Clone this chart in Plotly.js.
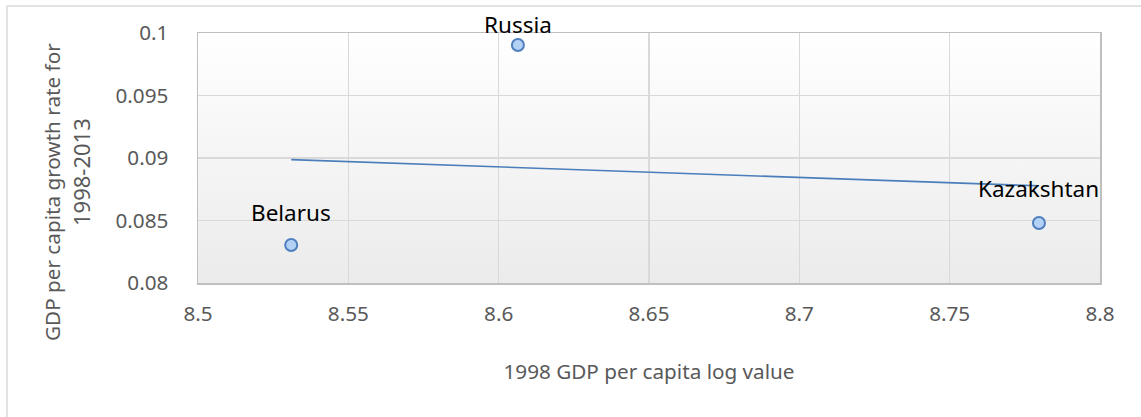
<!DOCTYPE html>
<html>
<head>
<meta charset="utf-8">
<script src="https://cdn.plot.ly/plotly-3.0.1.min.js"></script>
<style>
  html, body { margin: 0; padding: 0; background: #ffffff; }
  #chart { width: 1141px; height: 417px; }
</style>
</head>
<body>
<div id="chart"></div>
<script>
// Countries and their values
const countries = ['Belarus', 'Russia', 'Kazakshtan'];
const gdpLog1998 = [8.531, 8.6064, 8.7797];      // 1998 GDP per capita, log value
const growthRate = [0.08304, 0.09904, 0.0848];   // GDP per capita growth rate 1998-2013

// Axis ticks
const xTickVals = [8.5, 8.55, 8.6, 8.65, 8.7, 8.75, 8.8];
const xTickText = ['8.5', '8.55', '8.6', '8.65', '8.7', '8.75', '8.8'];
const yTickVals = [0.08, 0.085, 0.09, 0.095, 0.1];
const yTickText = ['0.08', '0.085', '0.09', '0.095', '0.1'];

// Axis titles (the vertical one is split over two lines)
const xTitle = '1998 GDP per capita log value';
const yTitleLines = ['GDP per capita growth rate for', '1998-2013'];

// Vertical lift of each data label above its point (pixels)
const labelLift = [33, 21, 35];

// Least-squares linear trendline over the data range
function linearFit(xs, ys) {
  const n = xs.length;
  const mx = xs.reduce((a, b) => a + b, 0) / n;
  const my = ys.reduce((a, b) => a + b, 0) / n;
  let sxy = 0, sxx = 0;
  for (let i = 0; i < n; i++) {
    sxy += (xs[i] - mx) * (ys[i] - my);
    sxx += (xs[i] - mx) * (xs[i] - mx);
  }
  const slope = sxy / sxx;
  return { slope: slope, intercept: my - slope * mx };
}
const fit = linearFit(gdpLog1998, growthRate);
const xMin = Math.min(...gdpLog1998);
const xMax = Math.max(...gdpLog1998);
const trendX = [xMin, xMax];
const trendY = trendX.map(x => fit.intercept + fit.slope * x);

const FONT = 'Noto Sans, Open Sans, sans-serif';
const AXIS_SIZE = 20.7;

// Plot area geometry in pixels, used to place the vertical title
const M = { l: 198, r: 41, t: 33, b: 134 };
const PW = 1141 - M.l - M.r;
const PH = 417 - M.t - M.b;
const px2paperX = px => (px - M.l) / PW;
const px2paperY = py => (417 - M.b - py) / PH;

const trendTrace = {
  x: trendX, y: trendY,
  type: 'scatter', mode: 'lines',
  line: { color: '#4a7ebb', width: 1.6 },
  hoverinfo: 'skip', showlegend: false
};

const pointTrace = {
  x: gdpLog1998, y: growthRate,
  type: 'scatter', mode: 'markers',
  marker: {
    symbol: 'circle', size: 12,
    color: '#b3d1f5',
    line: { color: '#4f7fbf', width: 2 }
  },
  text: countries, hoverinfo: 'text', showlegend: false
};

// Subtle vertical gradient behind the plotting area
const bgSvg = '<svg xmlns="http://www.w3.org/2000/svg" width="100" height="100" preserveAspectRatio="none">' +
  '<defs><linearGradient id="g" x1="0" y1="0" x2="0" y2="1">' +
  '<stop offset="0" stop-color="#ffffff"/><stop offset="1" stop-color="#ebebeb"/>' +
  '</linearGradient></defs><rect width="100" height="100" fill="url(#g)"/></svg>';
const bgUri = 'data:image/svg+xml;base64,' + btoa(bgSvg);

const annotations = countries.map((name, i) => ({
  x: gdpLog1998[i], y: growthRate[i],
  xref: 'x', yref: 'y',
  text: name, showarrow: false,
  yshift: labelLift[i],
  font: { family: FONT, size: 22.5, color: '#000000' },
  xanchor: 'center', yanchor: 'middle'
}));

// Vertical axis title, one rotated annotation per line
const yTitleX = [52, 81];
const yTitleY = [192, 172];
const yTitleSize = [20.7, 22];
yTitleLines.forEach((line, i) => {
  annotations.push({
    xref: 'paper', yref: 'paper',
    x: px2paperX(yTitleX[i]), y: px2paperY(yTitleY[i]),
    text: line, showarrow: false, textangle: -90,
    xanchor: 'center', yanchor: 'middle',
    font: { family: FONT, size: yTitleSize[i], color: '#595959' }
  });
});

const layout = {
  width: 1141, height: 417,
  margin: M,
  paper_bgcolor: '#ffffff',
  plot_bgcolor: 'rgba(0,0,0,0)',
  font: { family: FONT, size: AXIS_SIZE, color: '#595959' },
  showlegend: false,
  xaxis: {
    range: [8.5, 8.8],
    tickvals: xTickVals, ticktext: xTickText,
    showgrid: true, gridcolor: '#d9d9d9', gridwidth: 1.3,
    zeroline: false,
    showline: true, linecolor: '#bfbfbf', linewidth: 1.5, mirror: true,
    ticks: '', ticklabelstandoff: 12,
    tickfont: { family: FONT, size: AXIS_SIZE, color: '#595959' },
    title: { text: xTitle, standoff: 38,
             font: { family: FONT, size: AXIS_SIZE, color: '#595959' } }
  },
  yaxis: {
    range: [0.08, 0.1],
    tickvals: yTickVals, ticktext: yTickText,
    showgrid: true, gridcolor: '#d9d9d9', gridwidth: 1.3,
    zeroline: false,
    showline: true, linecolor: '#bfbfbf', linewidth: 1.5, mirror: true,
    ticks: '', ticklabelstandoff: 24,
    tickfont: { family: FONT, size: AXIS_SIZE, color: '#595959' }
  },
  images: [{
    source: bgUri, xref: 'paper', yref: 'paper',
    x: 0, y: 1, sizex: 1, sizey: 1,
    xanchor: 'left', yanchor: 'top',
    sizing: 'stretch', layer: 'below'
  }],
  shapes: [
    // outer frame of the chart area (left and top edges)
    { type: 'line', xref: 'paper', yref: 'paper',
      x0: px2paperX(7), x1: px2paperX(7), y0: px2paperY(6), y1: px2paperY(417),
      line: { color: '#d9d9d9', width: 1.5 } },
    { type: 'line', xref: 'paper', yref: 'paper',
      x0: px2paperX(7), x1: px2paperX(1141), y0: px2paperY(6), y1: px2paperY(6),
      line: { color: '#d9d9d9', width: 1.5 } }
  ],
  annotations: annotations
};

Plotly.newPlot('chart', [trendTrace, pointTrace], layout, { displayModeBar: false, staticPlot: true });
</script>
</body>
</html>
